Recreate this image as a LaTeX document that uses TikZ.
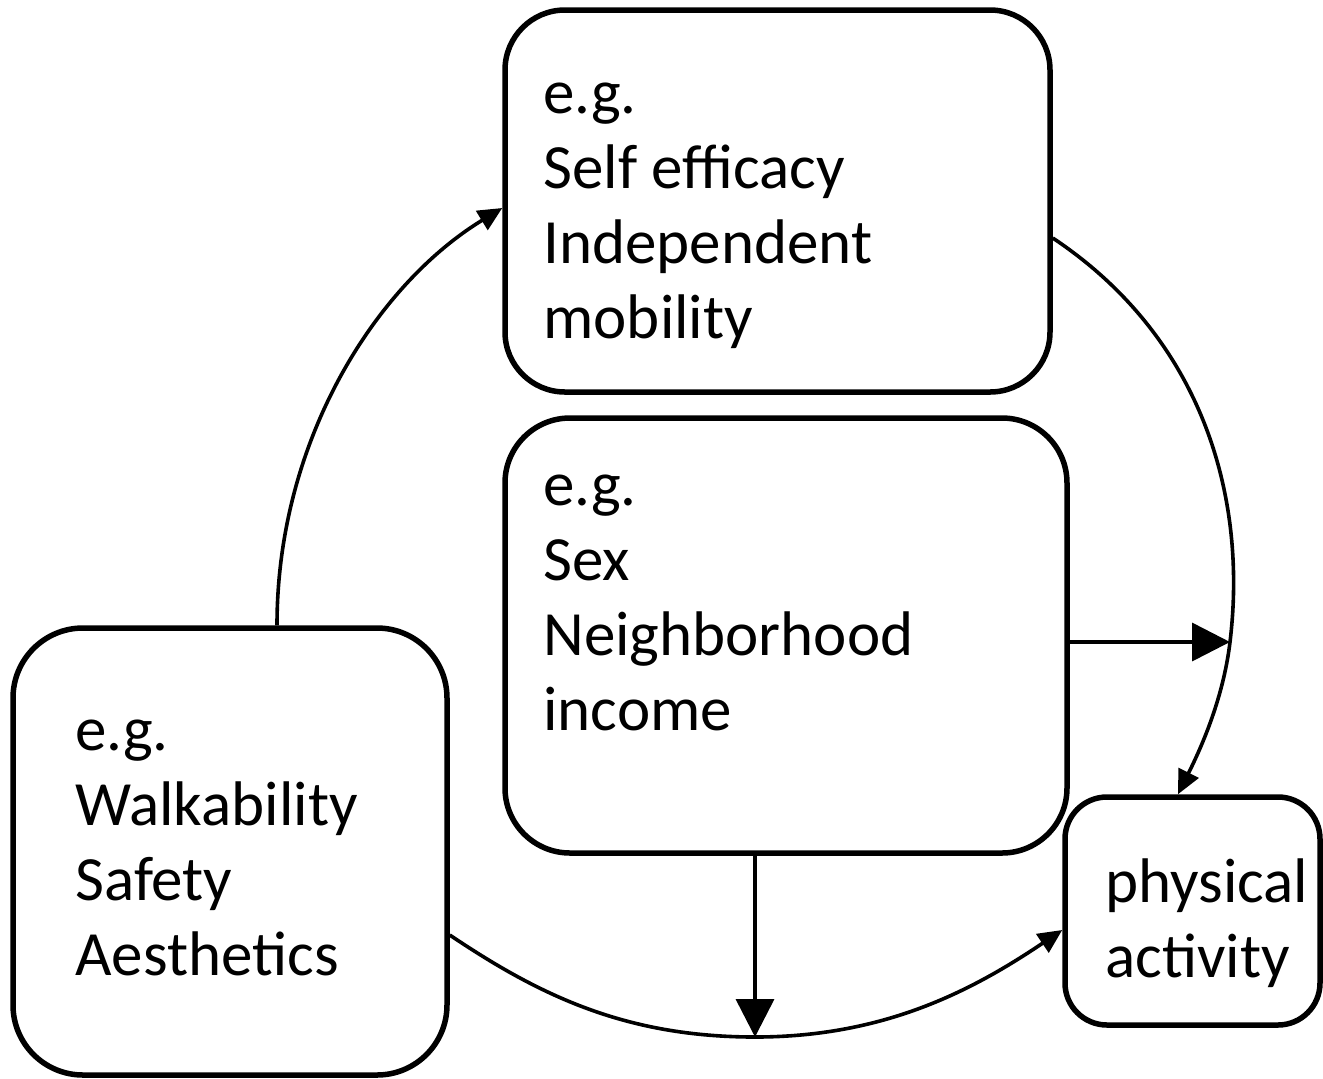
\documentclass[tikz,border=0pt]{standalone}
\usepackage{fontspec}
\setmainfont{Carlito}
\usetikzlibrary{arrows.meta}
\begin{document}
\begin{tikzpicture}[x=0.5pt,y=-0.5pt,
  box/.style={draw, line width=2.75pt, inner sep=0pt, fill=white},
  boxtext/.style={anchor=base west, align=left, inner sep=0pt,
    font=\fontsize{31.5pt}{37.5pt}\selectfont},
  conn/.style={line width=1.8pt},
  bigtip/.style={-{Triangle[length=19pt,width=19pt]}},
  smalltip/.style={-{Triangle[length=12pt,width=11pt]}}]
\useasboundingbox (0,0) rectangle (1323,1078);
% boxes
\node[box, rounded corners=30pt, minimum width=272.5pt, minimum height=191pt] (top) at (777.5,201) {};
\node[box, rounded corners=32.5pt, minimum width=281pt, minimum height=217.5pt] (mid) at (786,635.5) {};
\node[box, rounded corners=35pt, minimum width=217pt, minimum height=223.5pt] (left) at (230,851.5) {};
\node[box, rounded corners=21pt, minimum width=127.5pt, minimum height=114pt] (pa) at (1192.5,911) {};
% texts (anchored at the baseline of the last line)
\node[boxtext] (toptext) at (543,338) {e.g.\\Self efficacy\\Independent\\mobility};
\node[boxtext] (midtext) at (543,730) {e.g.\\Sex\\Neighborhood\\income};
\node[boxtext] (lefttext) at (75,975) {e.g.\\Walkability\\Safety\\Aesthetics};
\node[boxtext] (patext) at (1105,977) {physical\\activity};
% junction points on the arcs
\coordinate (m) at (1230,642);
\coordinate (b) at (755,1037);
% arcs
\draw[conn, smalltip] ([xshift=23.5pt]left.north) .. controls (277,440) and (376,285) .. ([yshift=-3.5pt]top.west);
\draw[conn, smalltip] ([yshift=-18.5pt]top.east) .. controls (1200,336) and (1248,493) .. (m)
   .. controls (1223,701) and (1199,752) .. ([xshift=-7.25pt]pa.north);
\draw[conn, smalltip] ([yshift=-41.75pt]left.east) .. controls (539,995) and (625,1037) .. (b)
   .. controls (885,1037) and (973,990) .. ([yshift=-9.5pt]pa.west);
% straight arrows from middle box
\draw[conn, bigtip] (mid.east |- m) -- (m);
\draw[conn, bigtip] (mid.south -| b) -- (b);
\end{tikzpicture}
\end{document}
